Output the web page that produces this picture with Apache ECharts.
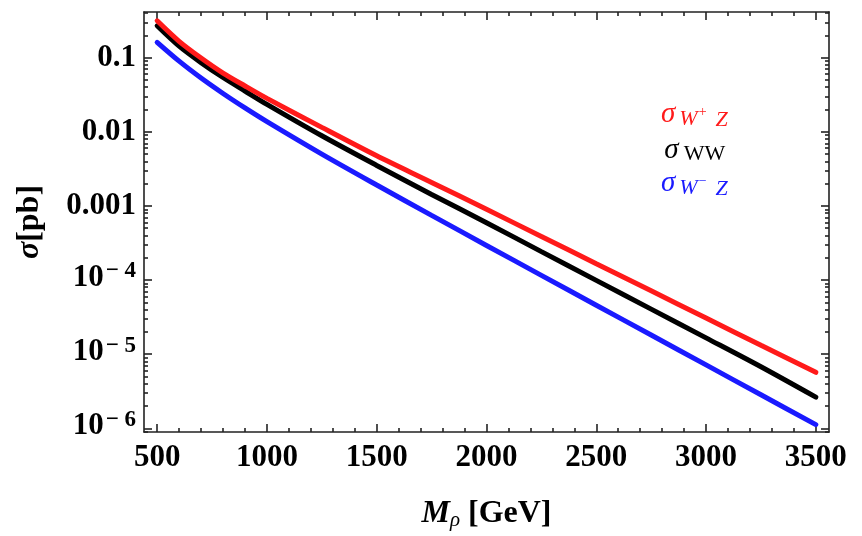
<!DOCTYPE html>
<html><head><meta charset="utf-8">
<script src="https://cdn.jsdelivr.net/npm/echarts@6/dist/echarts.min.js"></script>
<style>html,body{margin:0;padding:0;background:#fff}#c{width:862px;height:536px}</style>
</head><body><div id="c"></div>
<script>
// Data
const masses   = [500, 600, 700, 800, 900, 1000, 1250, 1500, 1750, 2000, 2250, 2500, 2750, 3000, 3250, 3500];
const sigmaWpZ = [0.314, 0.166, 0.0988, 0.0619, 0.0415, 0.0282, 0.01146, 0.00474, 0.002075, 9.0e-4, 3.87e-4, 1.66e-4, 7.15e-5, 3.07e-5, 1.32e-5, 5.69e-6];
const sigmaWW  = [0.2692, 0.1429, 0.0857, 0.0540, 0.0355, 0.02344, 0.00883, 0.003516, 0.001429, 5.94e-4, 2.415e-4, 9.89e-5, 4.05e-5, 1.66e-5, 6.76e-6, 2.63e-6];
const sigmaWmZ = [0.161, 0.0897, 0.0531, 0.0329, 0.0210, 0.01371, 0.0050, 0.001914, 7.45e-4, 2.93e-4, 1.156e-4, 4.57e-5, 1.81e-5, 7.16e-6, 2.83e-6, 1.12e-6];
const seriesNames = ['σW+Z', 'σWW', 'σW−Z'];
const xTickValues = [500, 1000, 1500, 2000, 2500, 3000, 3500];
const yTickValues = [1e-6, 1e-5, 1e-4, 1e-3, 1e-2, 1e-1];
const yTickLabels = ['10^−6', '10^−5', '10^−4', '0.001', '0.01', '0.1'];

const X_MIN = 440, X_MAX = 3560;
const Y_MIN = Math.pow(10, -6.05), Y_MAX = Math.pow(10, -0.384);

const xMinor = [];
for (let m = 500; m <= 3500; m += 100) if (m % 500 !== 0) xMinor.push(m);
const yMinor = [];
for (let e = -7; e <= 0; e++) for (let k = 2; k <= 9; k++) {
  const v = k * Math.pow(10, e);
  if (v > Y_MIN && v < Y_MAX) yMinor.push(v);
}

const frameColor = '#222';
const serif = '"Liberation Serif", "DejaVu Serif", serif';
const lineSt = { color: frameColor, width: 1.6 };

function yLabel(v) {
  let idx = 0, best = Infinity;
  yTickValues.forEach((t, i) => { const d = Math.abs(Math.log10(t) - Math.log10(v)); if (d < best) { best = d; idx = i; } });
  const s = yTickLabels[idx];
  if (s.indexOf('^') >= 0) {
    const p = s.split('^');
    return '{c|' + p[0] + '}{e|' + p[1].replace('−', '− ') + '}';
  }
  return '{b|' + s + '}';
}

function xAx(pos, minor, labels) {
  return {
    type: 'value', position: pos, min: X_MIN, max: X_MAX,
    axisLine: { show: !minor, lineStyle: lineSt, onZero: false },
    axisTick: { show: true, inside: true, length: minor ? 4 : 8, customValues: minor ? xMinor : xTickValues, lineStyle: lineSt },
    axisLabel: labels ? { show: true, customValues: xTickValues, formatter: v => String(Math.round(v)), fontFamily: serif, fontWeight: 'bold', fontSize: 31, color: '#000', margin: 10 } : { show: false },
    splitLine: { show: false }
  };
}
function yAx(pos, minor, labels) {
  return {
    type: 'log', position: pos, min: Y_MIN, max: Y_MAX, logBase: 10,
    axisLine: { show: !minor, lineStyle: lineSt, onZero: false },
    axisTick: { show: true, inside: true, length: minor ? 4 : 8, customValues: minor ? yMinor : yTickValues, lineStyle: lineSt },
    axisLabel: labels ? {
      show: true, customValues: yTickValues, formatter: yLabel, margin: 8,
      rich: {
        b: { fontFamily: serif, fontWeight: 'bold', fontSize: 31, color: '#000' },
        c: { fontFamily: serif, fontWeight: 'bold', fontSize: 31, color: '#000', padding: [0, 0, 5, 0] },
        e: { fontFamily: serif, fontWeight: 'bold', fontSize: 23, color: '#000', padding: [0, 0, 17, 2] }
      }
    } : { show: false },
    splitLine: { show: false }, minorTick: { show: false }
  };
}

const xAxes = [xAx('bottom', false, true), xAx('bottom', true, false), xAx('top', false, false), xAx('top', true, false)];
xAxes[0].name = '{m|M}{r|ρ}{g| [GeV]}';
xAxes[0].nameLocation = 'middle';
xAxes[0].nameGap = 64;
xAxes[0].nameTextStyle = {
  rich: {
    m: { fontFamily: serif, fontStyle: 'italic', fontWeight: 'bold', fontSize: 32, color: '#000' },
    r: { fontFamily: serif, fontStyle: 'italic', fontSize: 21, color: '#000', padding: [14, 0, 0, 0] },
    g: { fontFamily: serif, fontWeight: 'bold', fontSize: 32, color: '#000' }
  }
};
const yAxes = [yAx('left', false, true), yAx('left', true, false), yAx('right', false, false), yAx('right', true, false)];
yAxes[0].name = '{s|σ}{g|[pb]}';
yAxes[0].nameLocation = 'middle';
yAxes[0].nameGap = 98;
yAxes[0].nameTextStyle = {
  rich: {
    s: { fontFamily: serif, fontStyle: 'italic', fontWeight: 'bold', fontSize: 32, color: '#000' },
    g: { fontFamily: serif, fontWeight: 'bold', fontSize: 32, color: '#000' }
  }
};

const colors = ['#ff1a1a', '#000000', '#1a1aff'];
const dataSets = [sigmaWpZ, sigmaWW, sigmaWmZ];
const order = [2, 1, 0];
const series = order.map(i => ({
  name: seriesNames[i], type: 'line', xAxisIndex: 0, yAxisIndex: 0,
  data: masses.map((m, j) => [m, dataSets[i][j]]),
  showSymbol: false, smooth: 0.3, silent: true,
  lineStyle: { color: colors[i], width: 5, cap: 'round' }, itemStyle: { color: colors[i] }
}));

const legendRich = {
  s: { fontFamily: serif, fontStyle: 'italic', fontSize: 29 },
  w: { fontFamily: serif, fontStyle: 'italic', fontSize: 22, padding: [10, 0, 0, 4] },
  p: { fontFamily: serif, fontSize: 14, padding: [0, 5, 4, 1] },
  z: { fontFamily: serif, fontStyle: 'italic', fontSize: 22, padding: [12, 0, 0, 4] },
  ww: { fontFamily: serif, fontSize: 22, padding: [8, 0, 0, 5] }
};
const legendFmt = {};
legendFmt[seriesNames[0]] = '{s|σ}{w|W}{p|+}{z|Z}';
legendFmt[seriesNames[1]] = ' {s|σ}{ww|WW}';
legendFmt[seriesNames[2]] = '{s|σ}{w|W}{p|−}{z|Z}';

const chart = echarts.init(document.getElementById('c'), null, { renderer: 'canvas' });
chart.setOption({
  animation: false,
  backgroundColor: '#fff',
  grid: { left: 144, top: 12, right: 33, bottom: 103, containLabel: false },
  xAxis: xAxes,
  yAxis: yAxes,
  legend: {
    orient: 'vertical', left: 651, top: 95, icon: 'none', itemWidth: 0, itemHeight: 10, itemGap: 4,
    selectedMode: false,
    data: seriesNames.map((n, i) => ({ name: n, textStyle: { color: colors[i] } })),
    formatter: n => legendFmt[n],
    textStyle: { rich: legendRich }
  },
  series: series
});
</script></body></html>
